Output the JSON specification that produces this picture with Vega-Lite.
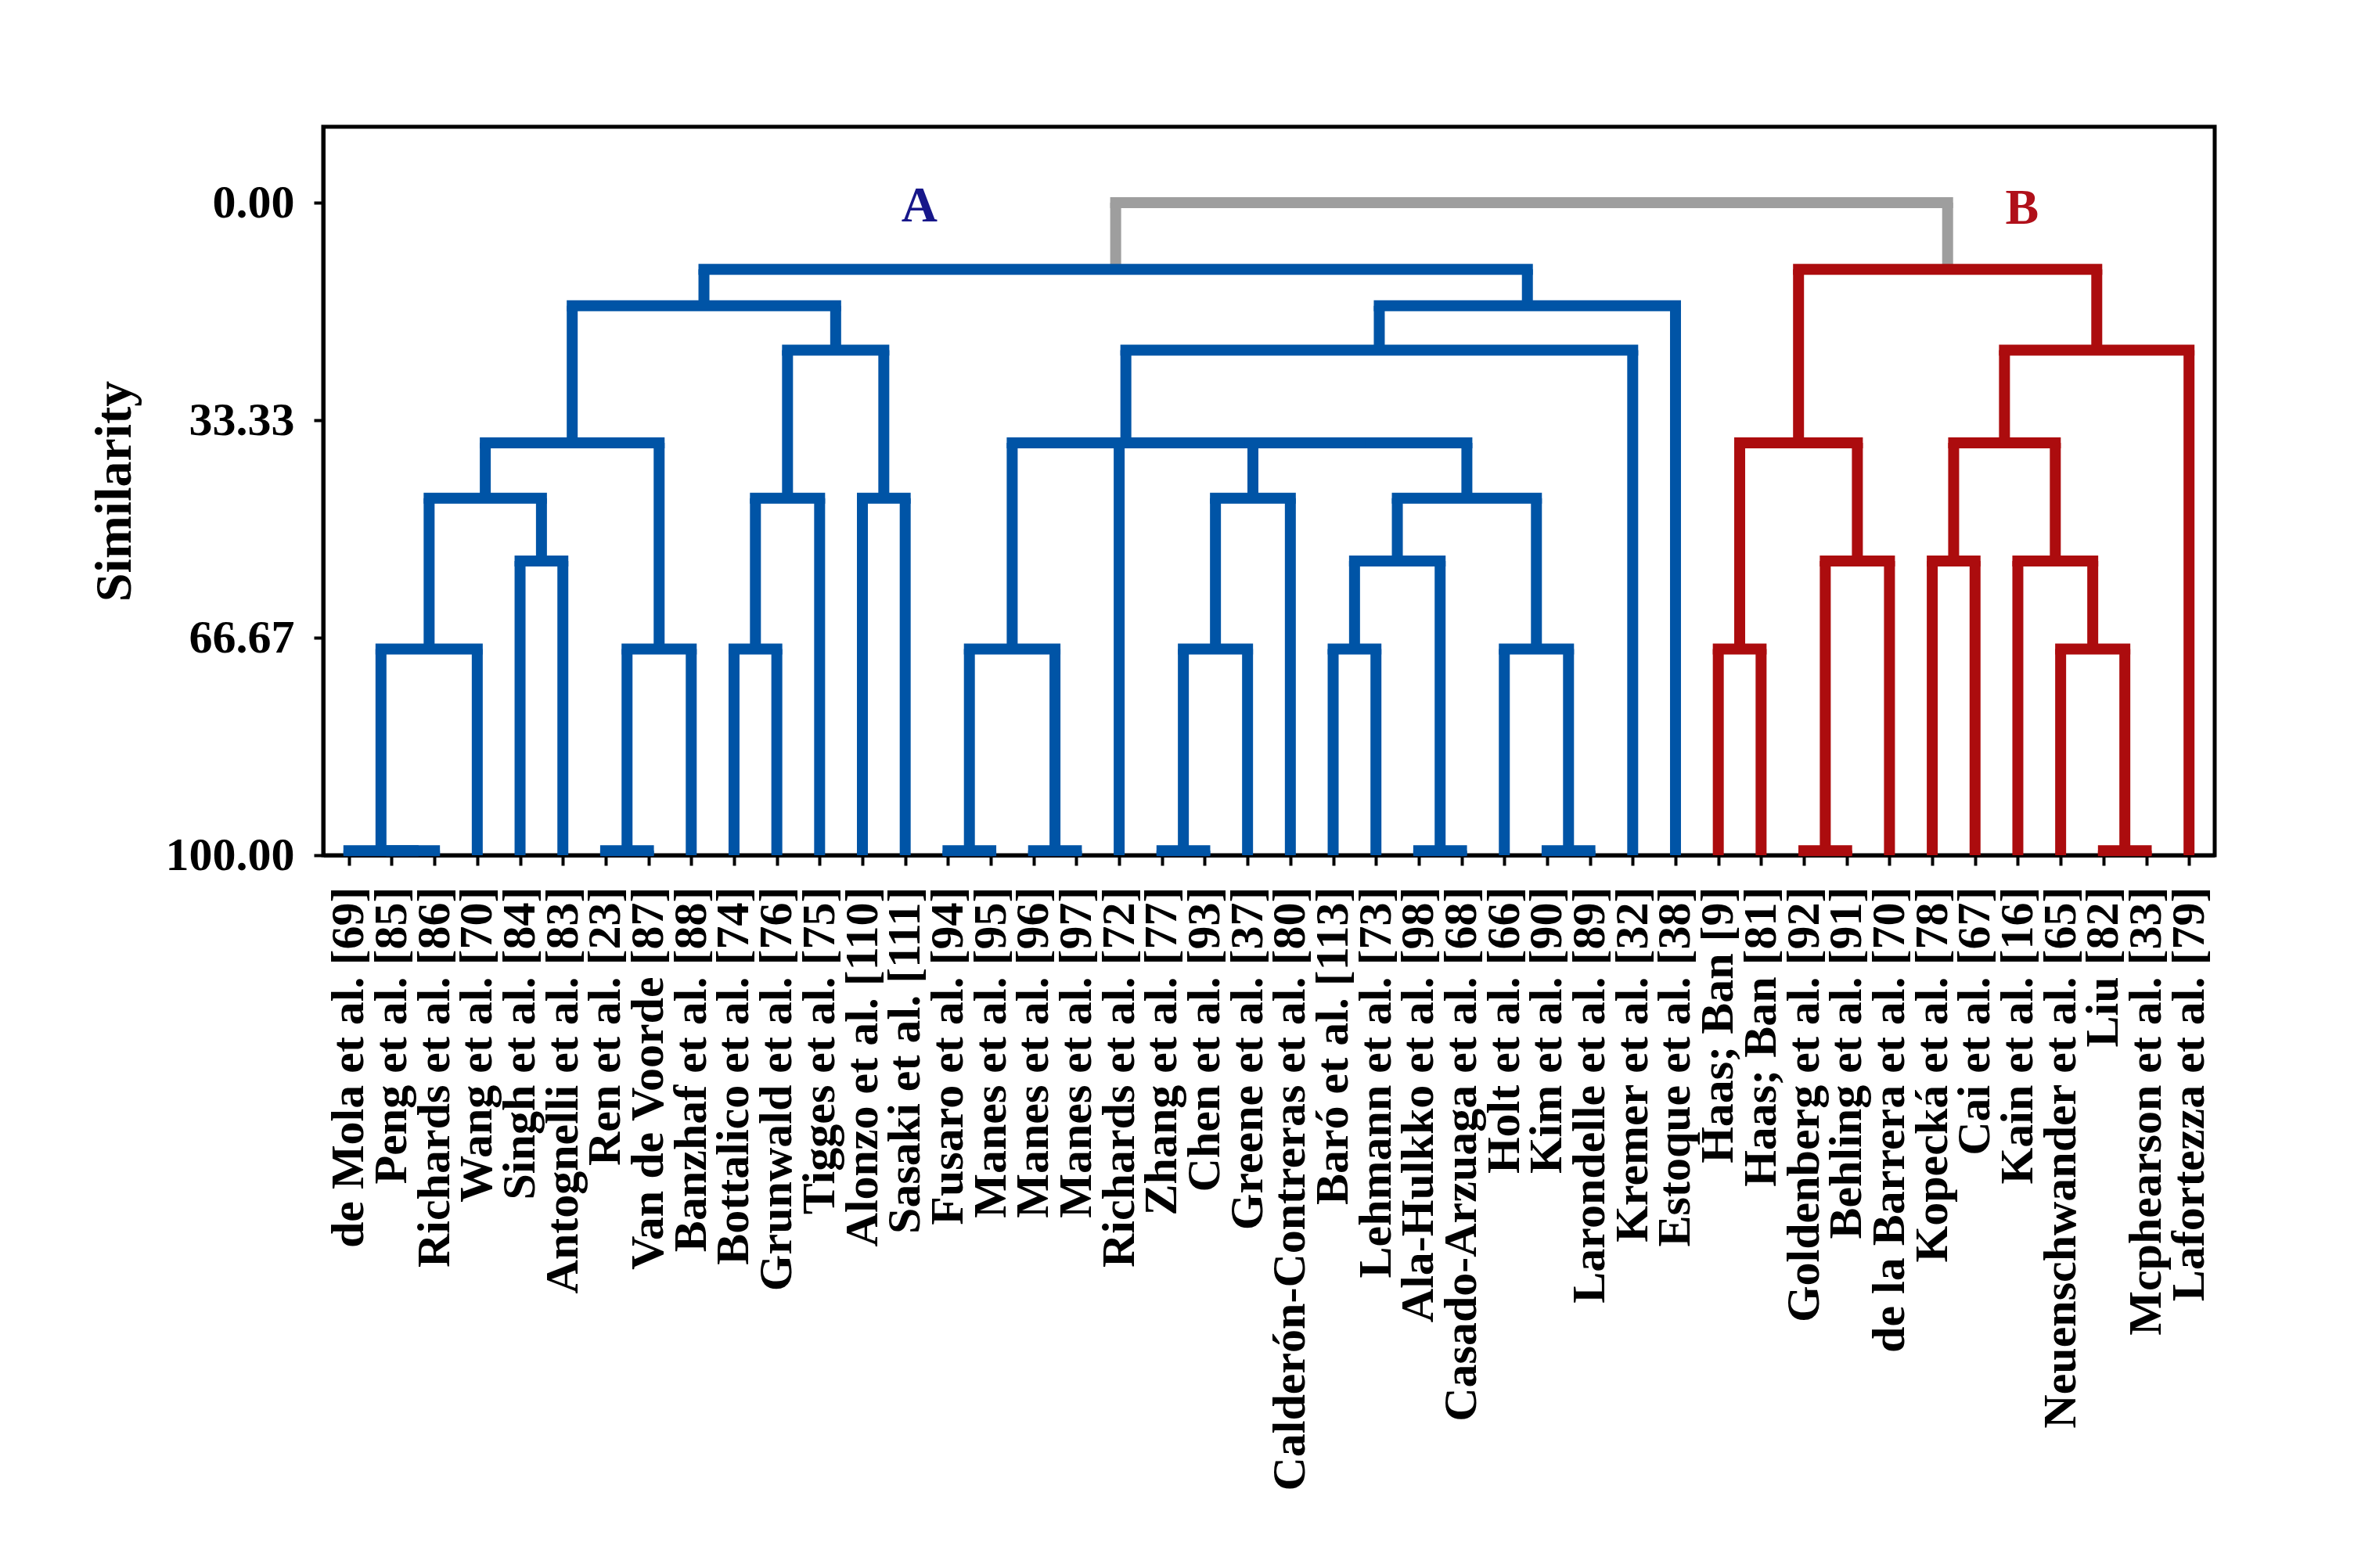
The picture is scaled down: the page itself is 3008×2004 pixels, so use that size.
{
  "$schema": "https://vega.github.io/schema/vega-lite/v6.json",
  "width": 2417,
  "height": 931,
  "autosize": {"type": "none"},
  "padding": {"left": 413, "top": 162, "right": 178, "bottom": 911},
  "background": "white",
  "config": {
    "view": {"stroke": "black", "strokeWidth": 5},
    "axis": {
      "grid": false, "domainColor": "black", "domainWidth": 5,
      "tickColor": "black", "tickWidth": 4,
      "labelFont": "Liberation Serif", "labelFontWeight": "bold", "labelColor": "black",
      "titleFont": "Liberation Serif", "titleFontWeight": "bold", "titleColor": "black",
      "zindex": 1, "labelLimit": 2000, "labelOverlap": false, "labelBound": false, "labelFlush": false
    },
    "axisX": {"labelAngle": -90, "labelFontSize": 60, "tickSize": 13, "labelPadding": 27},
    "axisY": {"labelFontSize": 60, "tickSize": 12, "labelPadding": 25, "titleFontSize": 66, "titlePadding": 33}
  },
  "datasets": {
    "leaves": [
      {"label": "de Mola et al. [69]", "sim": 100},
      {"label": "Peng et al. [85]", "sim": 100},
      {"label": "Richards et al. [86]", "sim": 100},
      {"label": "Wang et al. [70]", "sim": 100},
      {"label": "Singh et al. [84]", "sim": 100},
      {"label": "Antognelli et al. [83]", "sim": 100},
      {"label": "Ren et al. [23]", "sim": 100},
      {"label": "Van de Voorde [87]", "sim": 100},
      {"label": "Banzhaf et al. [88]", "sim": 100},
      {"label": "Bottalico et al. [74]", "sim": 100},
      {"label": "Grunwald et al. [76]", "sim": 100},
      {"label": "Tigges et al. [75]", "sim": 100},
      {"label": "Alonzo et al. [110]", "sim": 100},
      {"label": "Sasaki et al. [111]", "sim": 100},
      {"label": "Fusaro et al. [94]", "sim": 100},
      {"label": "Manes et al. [95]", "sim": 100},
      {"label": "Manes et al. [96]", "sim": 100},
      {"label": "Manes et al. [97]", "sim": 100},
      {"label": "Richards et al. [72]", "sim": 100},
      {"label": "Zhang et al. [77]", "sim": 100},
      {"label": "Chen et al. [93]", "sim": 100},
      {"label": "Greene et al. [37]", "sim": 100},
      {"label": "Calderón-Contreras et al. [80]", "sim": 100},
      {"label": "Baró et al. [113]", "sim": 100},
      {"label": "Lehmann et al. [73]", "sim": 100},
      {"label": "Ala-Hulkko et al. [98]", "sim": 100},
      {"label": "Casado-Arzuaga et al. [68]", "sim": 100},
      {"label": "Holt et al. [66]", "sim": 100},
      {"label": "Kim et al. [90]", "sim": 100},
      {"label": "Larondelle et al. [89]", "sim": 100},
      {"label": "Kremer et al. [32]", "sim": 100},
      {"label": "Estoque et al. [38]", "sim": 100},
      {"label": "Haas; Ban [9]", "sim": 100},
      {"label": "Haas; Ban [81]", "sim": 100},
      {"label": "Goldenberg et al. [92]", "sim": 100},
      {"label": "Behling et al. [91]", "sim": 100},
      {"label": "de la Barrera et al. [70]", "sim": 100},
      {"label": "Kopecká et al. [78]", "sim": 100},
      {"label": "Cai et al. [67]", "sim": 100},
      {"label": "Kain et al. [16]", "sim": 100},
      {"label": "Neuenschwander et al. [65]", "sim": 100},
      {"label": "Liu [82]", "sim": 100},
      {"label": "Mcphearson et al. [33]", "sim": 100},
      {"label": "Lafortezza et al. [79]", "sim": 100}
    ],
    "merges": [
      {"xl": 17.918, "yl": 10.2, "xr": 37.359, "yr": 10.2, "y": 0, "c": "root"},
      {"xl": 1, "yl": 100, "xr": 2, "yr": 100, "y": 99.3, "c": "A"},
      {"xl": 0, "yl": 100, "xr": 1.5, "yr": 99.3, "y": 99.3, "c": "A"},
      {"xl": 0.75, "yl": 99.3, "xr": 3, "yr": 100, "y": 68.4, "c": "A"},
      {"xl": 4, "yl": 100, "xr": 5, "yr": 100, "y": 54.9, "c": "A"},
      {"xl": 1.875, "yl": 68.4, "xr": 4.5, "yr": 54.9, "y": 45.3, "c": "A"},
      {"xl": 6, "yl": 100, "xr": 7, "yr": 100, "y": 99.3, "c": "A"},
      {"xl": 6.5, "yl": 99.3, "xr": 8, "yr": 100, "y": 68.4, "c": "A"},
      {"xl": 3.1875, "yl": 45.3, "xr": 7.25, "yr": 68.4, "y": 36.8, "c": "A"},
      {"xl": 9, "yl": 100, "xr": 10, "yr": 100, "y": 68.4, "c": "A"},
      {"xl": 9.5, "yl": 68.4, "xr": 11, "yr": 100, "y": 45.3, "c": "A"},
      {"xl": 12, "yl": 100, "xr": 13, "yr": 100, "y": 45.3, "c": "A"},
      {"xl": 10.25, "yl": 45.3, "xr": 12.5, "yr": 45.3, "y": 22.6, "c": "A"},
      {"xl": 5.21875, "yl": 36.8, "xr": 11.375, "yr": 22.6, "y": 15.8, "c": "A"},
      {"xl": 14, "yl": 100, "xr": 15, "yr": 100, "y": 99.3, "c": "A"},
      {"xl": 16, "yl": 100, "xr": 17, "yr": 100, "y": 99.3, "c": "A"},
      {"xl": 14.5, "yl": 99.3, "xr": 16.5, "yr": 99.3, "y": 68.4, "c": "A"},
      {"xl": 19, "yl": 100, "xr": 20, "yr": 100, "y": 99.3, "c": "A"},
      {"xl": 19.5, "yl": 99.3, "xr": 21, "yr": 100, "y": 68.4, "c": "A"},
      {"xl": 20.25, "yl": 68.4, "xr": 22, "yr": 100, "y": 45.3, "c": "A"},
      {"xl": 23, "yl": 100, "xr": 24, "yr": 100, "y": 68.4, "c": "A"},
      {"xl": 25, "yl": 100, "xr": 26, "yr": 100, "y": 99.3, "c": "A"},
      {"xl": 23.5, "yl": 68.4, "xr": 25.5, "yr": 99.3, "y": 54.9, "c": "A"},
      {"xl": 28, "yl": 100, "xr": 29, "yr": 100, "y": 99.3, "c": "A"},
      {"xl": 27, "yl": 100, "xr": 28.5, "yr": 99.3, "y": 68.4, "c": "A"},
      {"xl": 24.5, "yl": 54.9, "xr": 27.75, "yr": 68.4, "y": 45.3, "c": "A"},
      {"xl": 21.125, "yl": 45.3, "xr": 26.125, "yr": 45.3, "y": 36.8, "c": "A"},
      {"xl": 18, "yl": 100, "xr": 23.625, "yr": 36.8, "y": 36.8, "c": "A"},
      {"xl": 15.5, "yl": 68.4, "xr": 20.8125, "yr": 36.8, "y": 36.8, "c": "A"},
      {"xl": 18.15625, "yl": 36.8, "xr": 30, "yr": 100, "y": 22.6, "c": "A"},
      {"xl": 24.078, "yl": 22.6, "xr": 31, "yr": 100, "y": 15.8, "c": "A"},
      {"xl": 8.297, "yl": 15.8, "xr": 27.539, "yr": 15.8, "y": 10.2, "c": "A"},
      {"xl": 32, "yl": 100, "xr": 33, "yr": 100, "y": 68.4, "c": "B"},
      {"xl": 34, "yl": 100, "xr": 35, "yr": 100, "y": 99.3, "c": "B"},
      {"xl": 34.5, "yl": 99.3, "xr": 36, "yr": 100, "y": 54.9, "c": "B"},
      {"xl": 32.5, "yl": 68.4, "xr": 35.25, "yr": 54.9, "y": 36.8, "c": "B"},
      {"xl": 37, "yl": 100, "xr": 38, "yr": 100, "y": 54.9, "c": "B"},
      {"xl": 41, "yl": 100, "xr": 42, "yr": 100, "y": 99.3, "c": "B"},
      {"xl": 40, "yl": 100, "xr": 41.5, "yr": 99.3, "y": 68.4, "c": "B"},
      {"xl": 39, "yl": 100, "xr": 40.75, "yr": 68.4, "y": 54.9, "c": "B"},
      {"xl": 37.5, "yl": 54.9, "xr": 39.875, "yr": 54.9, "y": 36.8, "c": "B"},
      {"xl": 38.6875, "yl": 36.8, "xr": 43, "yr": 100, "y": 22.6, "c": "B"},
      {"xl": 33.875, "yl": 36.8, "xr": 40.844, "yr": 22.6, "y": 10.2, "c": "B"}
    ],
    "tags": [
      {"label": "A", "x": 13.33, "y": 0.65},
      {"label": "B", "x": 39.1, "y": 0.9}
    ]
  },
  "layer": [
    {
      "data": {"name": "leaves"},
      "mark": {"type": "point", "opacity": 0},
      "encoding": {
        "x": {"field": "label", "type": "nominal", "sort": null, "scale": {"type": "point", "padding": 0.6}, "axis": {"title": null}},
        "y": {"field": "sim", "type": "quantitative", "title": "Similarity", "scale": {"domain": [-11.64, 100], "reverse": true, "nice": false, "zero": false}, "axis": {"values": [0, 33.33, 66.67, 100], "format": ".2f"}}
      }
    },
    {
      "data": {"name": "merges"},
      "encoding": {
        "color": {"field": "c", "type": "nominal", "scale": {"domain": ["A", "B", "root"], "range": ["#0054A6", "#AC0C0E", "#9E9E9E"]}, "legend": null}
      },
      "layer": [
        {
          "mark": {"type": "rule", "strokeWidth": 14, "strokeCap": "butt"},
          "encoding": {
            "x": {"field": "xl", "type": "quantitative", "scale": {"domain": [-0.6, 43.6], "nice": false, "zero": false}, "axis": null},
            "y": {"field": "yl", "type": "quantitative", "title": "Similarity", "scale": {"domain": [-11.64, 100], "reverse": true, "nice": false, "zero": false}, "axis": {"values": [0, 33.33, 66.67, 100], "format": ".2f"}},
            "y2": {"field": "y"}
          }
        },
        {
          "mark": {"type": "rule", "strokeWidth": 14, "strokeCap": "butt"},
          "encoding": {
            "x": {"field": "xr", "type": "quantitative", "scale": {"domain": [-0.6, 43.6], "nice": false, "zero": false}, "axis": null},
            "y": {"field": "yr", "type": "quantitative", "title": "Similarity", "scale": {"domain": [-11.64, 100], "reverse": true, "nice": false, "zero": false}, "axis": {"values": [0, 33.33, 66.67, 100], "format": ".2f"}},
            "y2": {"field": "y"}
          }
        },
        {
          "mark": {"type": "rule", "strokeWidth": 14, "strokeCap": "square"},
          "encoding": {
            "x": {"field": "xl", "type": "quantitative", "scale": {"domain": [-0.6, 43.6], "nice": false, "zero": false}, "axis": null},
            "x2": {"field": "xr"},
            "y": {"field": "y", "type": "quantitative", "title": "Similarity", "scale": {"domain": [-11.64, 100], "reverse": true, "nice": false, "zero": false}, "axis": {"values": [0, 33.33, 66.67, 100], "format": ".2f"}}
          }
        }
      ]
    },
    {
      "data": {"name": "tags"},
      "mark": {"type": "text", "font": "Liberation Serif", "fontWeight": "bold", "fontSize": 64, "align": "center", "baseline": "middle"},
      "encoding": {
        "x": {"field": "x", "type": "quantitative", "scale": {"domain": [-0.6, 43.6], "nice": false, "zero": false}, "axis": null},
        "y": {"field": "y", "type": "quantitative", "title": "Similarity", "scale": {"domain": [-11.64, 100], "reverse": true, "nice": false, "zero": false}, "axis": {"values": [0, 33.33, 66.67, 100], "format": ".2f"}},
        "text": {"field": "label"},
        "color": {"condition": {"test": "datum.label === 'A'", "value": "#17178A"}, "value": "#B0101A"}
      }
    }
  ],
  "resolve": {"scale": {"x": "independent"}}
}
